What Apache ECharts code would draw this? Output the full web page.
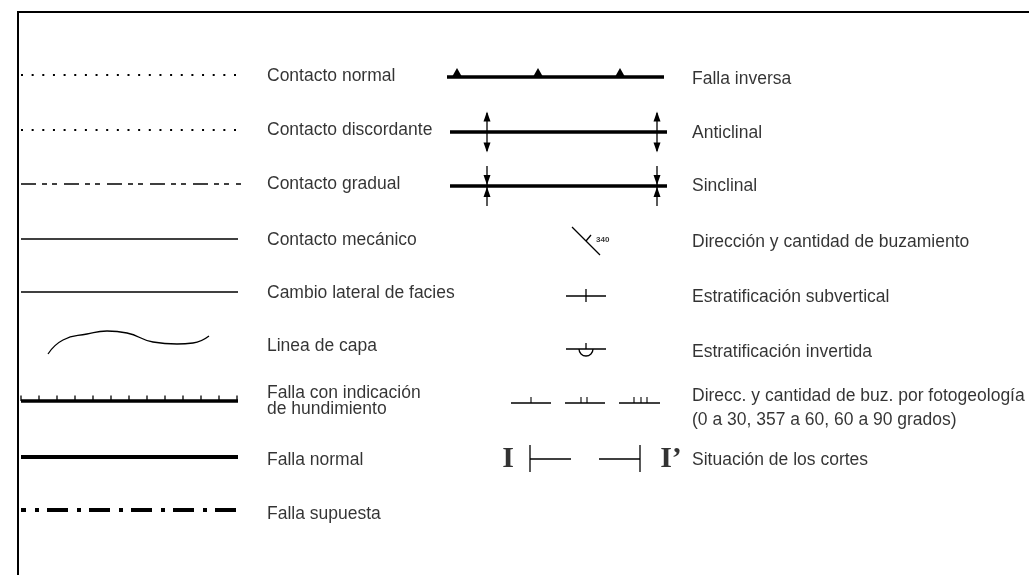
<!DOCTYPE html>
<html>
<head>
<meta charset="utf-8">
<script src="https://cdn.jsdelivr.net/npm/echarts@6/dist/echarts.min.js"></script>
<style>
  html, body { margin: 0; padding: 0; background: #fff; }
  #chart { width: 1029px; height: 575px; }
</style>
</head>
<body>
<div id="chart"></div>
<script>
// Legend texts and where they sit (plot units = pixels of the 1029x575 sheet)
const leftLabels = ['Contacto normal', 'Contacto discordante', 'Contacto gradual', 'Contacto mecánico',
    'Cambio lateral de facies', 'Linea de capa', 'Falla con indicación\nde hundimiento',
    'Falla normal', 'Falla supuesta'];
const leftLabelY = [76, 130, 184, 240, 293, 346, 401, 460, 514];
const rightLabels = ['Falla inversa', 'Anticlinal', 'Sinclinal', 'Dirección y cantidad de buzamiento',
    'Estratificación subvertical', 'Estratificación invertida', 'Situación de los cortes'];
const rightLabelY = [79, 133, 186, 242, 297, 352, 460];
const fotoLabel = 'Direcc. y cantidad de buz. por fotogeología\n(0 a 30, 357 a 60, 60 a 90 grados)';
const fotoLabelY = 408;
const labelX = [267, 692];

// frame
const frame = [[18, 575], [18, 12], [1029, 12]];

// left column symbols
const contactSpan = [21, 238];
const contactY = [75, 130, 184, 239, 292];          // normal, discordante, gradual, mecánico, facies
const capaCurve = [[48, 354], [63, 340], [87, 334], [107, 331], [127, 333],
    [153, 342], [177, 344], [193, 343], [209, 336]];
const hundY = 401;
const hundTicksX = [21, 39, 57, 75, 93, 111, 129, 147, 165, 183, 201, 219, 237];
const fallaNormalY = 457;
const fallaSupuestaY = 510;

// middle column symbols
const inversaSpan = [447, 664];
const inversaY = 77;
const inversaTeethX = [457, 538, 620];
const foldSpan = [450, 667];
const anticlinalY = 132;
const sinclinalY = 186;
const foldAxisX = [487, 657];
const buzLine = [[572, 227], [600, 255]];
const buzTick = [[586, 241], [591, 235]];
const buzValue = ['340', 596, 240];
const strikeSpan = [566, 606];
const subverticalY = 296;
const invertidaY = 349;
const strikeTickX = 586;
const fotoSpans = [[511, 551], [565, 605], [619, 660]];
const fotoY = 403;
const fotoTicksX = [[531], [581, 587], [634, 641, 647]];
const corteY = 459;
const corteBarX = [530, 640];
const corteArms = [[530, 571], [599, 640]];
const corteMarks = [['I', 508], ['I’', 671]];

const BLACK = '#000';
const thin = { color: BLACK, width: 1.3, opacity: 1 };
const thick = { color: BLACK, width: 3.5, opacity: 1 };

function seg(a, b, style) {
    return { coords: [a, b], lineStyle: Object.assign({ opacity: 1 }, style) };
}

const segments = [];
// frame
segments.push({ coords: frame, lineStyle: { color: BLACK, width: 2, opacity: 1 } });

// contacts
segments.push(seg([contactSpan[0], contactY[0]], [contactSpan[1], contactY[0]],
    { color: BLACK, width: 2, type: [2, 8.65] }));
segments.push(seg([contactSpan[0], contactY[1]], [contactSpan[1], contactY[1]],
    { color: BLACK, width: 2, type: [2, 8.65] }));
segments.push(seg([contactSpan[0], contactY[2]], [contactSpan[1] + 3, contactY[2]],
    { color: BLACK, width: 1.5, type: [15, 6, 5, 5, 5, 7] }));
segments.push(seg([contactSpan[0], contactY[3]], [contactSpan[1], contactY[3]], thin));
segments.push(seg([contactSpan[0], contactY[4]], [contactSpan[1], contactY[4]], thin));

// falla con hundimiento
segments.push(seg([contactSpan[0], hundY], [contactSpan[1], hundY], { color: BLACK, width: 3.5 }));
hundTicksX.forEach(x => segments.push(seg([x, hundY], [x, hundY - 5.5], { color: BLACK, width: 1.3 })));

// falla normal / supuesta
segments.push(seg([contactSpan[0], fallaNormalY], [contactSpan[1], fallaNormalY], { color: BLACK, width: 4 }));
segments.push(seg([contactSpan[0], fallaSupuestaY], [contactSpan[1], fallaSupuestaY],
    { color: BLACK, width: 4, type: [21, 9, 4, 8], dashOffset: 16 }));

// falla inversa
segments.push(seg([inversaSpan[0], inversaY], [inversaSpan[1], inversaY], thick));

// folds
[anticlinalY, sinclinalY].forEach(y => segments.push(seg([foldSpan[0], y], [foldSpan[1], y], thick)));
foldAxisX.forEach(x => {
    segments.push(seg([x, anticlinalY - 19], [x, anticlinalY + 19], thin));
    segments.push(seg([x, sinclinalY - 20], [x, sinclinalY + 20], thin));
});

// buzamiento
segments.push(seg(buzLine[0], buzLine[1], thin));
segments.push(seg(buzTick[0], buzTick[1], thin));

// subvertical & invertida
segments.push(seg([strikeSpan[0], subverticalY], [strikeSpan[1], subverticalY], thin));
segments.push(seg([strikeTickX, subverticalY - 7], [strikeTickX, subverticalY + 6], thin));
segments.push(seg([strikeSpan[0], invertidaY], [strikeSpan[1], invertidaY], thin));
segments.push(seg([strikeTickX, invertidaY - 6], [strikeTickX, invertidaY], thin));

// fotogeología
fotoSpans.forEach((s, i) => {
    segments.push(seg([s[0], fotoY], [s[1], fotoY], thin));
    fotoTicksX[i].forEach(x => segments.push(seg([x, fotoY], [x, fotoY - 6], { color: BLACK, width: 1.1 })));
});

// cortes
corteBarX.forEach(x => segments.push(seg([x, corteY - 14], [x, corteY + 13], thin)));
corteArms.forEach(a => segments.push(seg([a[0], corteY], [a[1], corteY], thin)));

// arrowheads / teeth as scatter triangles
const heads = [];
inversaTeethX.forEach(x => heads.push({ value: [x, inversaY - 5], symbolSize: [9, 8], symbolRotate: 0 }));
foldAxisX.forEach(x => {
    heads.push({ value: [x, anticlinalY - 15.5], symbolSize: [7, 10], symbolRotate: 0 });
    heads.push({ value: [x, anticlinalY + 15.5], symbolSize: [7, 10], symbolRotate: 180 });
    heads.push({ value: [x, sinclinalY - 6], symbolSize: [7, 10], symbolRotate: 180 });
    heads.push({ value: [x, sinclinalY + 6], symbolSize: [7, 10], symbolRotate: 0 });
});

const textFont = 'Liberation Sans, Arial, sans-serif';
const labelData = [];
leftLabels.forEach((t, i) => labelData.push({ name: t, value: [labelX[0], leftLabelY[i]] }));
rightLabels.forEach((t, i) => labelData.push({ name: t, value: [labelX[1], rightLabelY[i]] }));

const labelStyle = {
    show: true, position: 'right', distance: 0,
    formatter: p => p.name,
    fontFamily: textFont, fontSize: 17.5, lineHeight: 16, color: BLACK
};

const chart = echarts.init(document.getElementById('chart'), null, { renderer: 'canvas' });
chart.setOption({
    animation: false,
    backgroundColor: '#fff',
    grid: { left: 0, right: 0, top: 0, bottom: 0 },
    xAxis: { type: 'value', min: 0, max: 1029, show: false },
    yAxis: { type: 'value', min: 0, max: 575, inverse: true, show: false },
    series: [
        {
            type: 'lines',
            coordinateSystem: 'cartesian2d',
            polyline: true,
            silent: true,
            symbol: 'none',
            lineStyle: { opacity: 1 },
            data: segments
        },
        {
            type: 'line',
            data: capaCurve,
            smooth: 0.5,
            symbol: 'none',
            silent: true,
            lineStyle: { color: BLACK, width: 1.3 }
        },
        {
            type: 'custom',
            silent: true,
            data: [[strikeTickX, invertidaY, 7]],
            renderItem(params, api) {
                const c = api.coord([api.value(0), api.value(1)]);
                const r = api.size([api.value(2), 0])[0];
                return {
                    type: 'arc',
                    shape: { cx: c[0], cy: c[1], r, startAngle: 0, endAngle: Math.PI, clockwise: true },
                    style: { stroke: BLACK, fill: null, lineWidth: 1.3 }
                };
            }
        },
        {
            type: 'scatter',
            symbol: 'triangle',
            silent: true,
            itemStyle: { color: BLACK, opacity: 1 },
            data: heads
        },
        {
            type: 'scatter',
            symbolSize: 0,
            silent: true,
            data: labelData,
            label: labelStyle
        },
        {
            type: 'scatter',
            symbolSize: 0,
            silent: true,
            data: [{ name: fotoLabel, value: [labelX[1], fotoLabelY] }],
            label: Object.assign({}, labelStyle, { lineHeight: 24 })
        },
        {
            type: 'scatter',
            symbolSize: 0,
            silent: true,
            data: [{ name: buzValue[0], value: [buzValue[1], buzValue[2]] }],
            label: {
                show: true, position: 'right', distance: 0,
                formatter: p => p.name,
                fontFamily: textFont, fontSize: 8, fontWeight: 'bold', color: BLACK
            }
        },
        {
            type: 'scatter',
            symbolSize: 0,
            silent: true,
            data: corteMarks.map(m => ({ name: m[0], value: [m[1], corteY] })),
            label: {
                show: true, position: 'inside',
                formatter: p => p.name,
                fontFamily: 'Liberation Serif, Times New Roman, serif',
                fontSize: 30, fontWeight: 'bold', color: BLACK
            }
        }
    ]
});
</script>
</body>
</html>
